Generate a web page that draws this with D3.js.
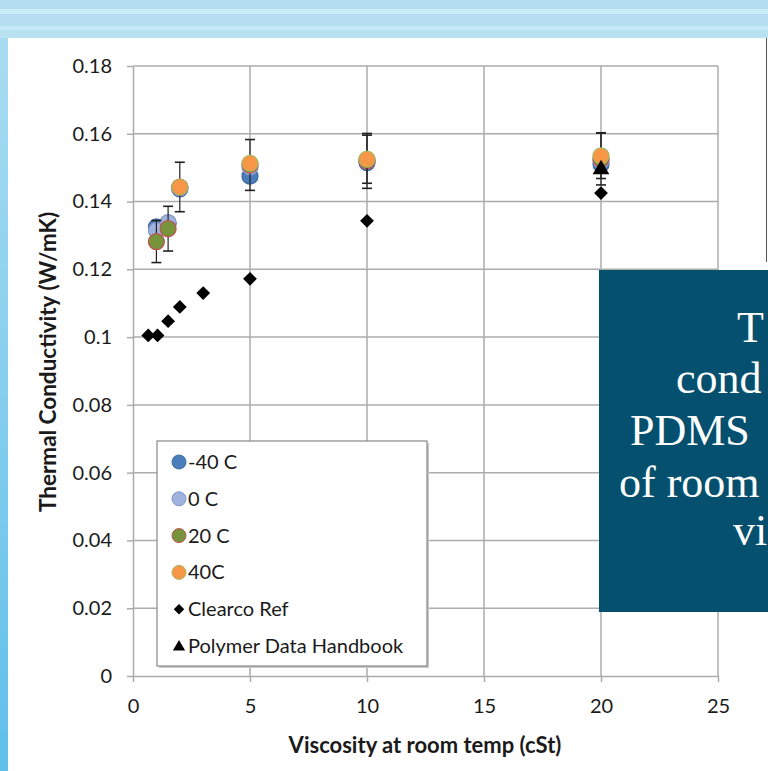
<!DOCTYPE html>
<html>
<head>
<meta charset="utf-8">
<script src="https://cdn.jsdelivr.net/npm/d3@7"></script>
<style>
  body { margin: 0; overflow: hidden; background: #b9e2f1; }
  svg { display: block; }
</style>
</head>
<body>
<div id="chart"></div>
<script>
// data
var viscosity = [1, 1.5, 2, 5, 10, 20];
var viscosity40 = [2, 5, 10, 20];
var kMinus40 = [0.1325, 0.1335, 0.1437, 0.1475, 0.1515, 0.151];
var kZero = [0.1315, 0.1338, 0.144, 0.1502, 0.152, 0.152];
var kTwenty = [0.1282, 0.132, 0.1443, 0.1508, 0.152, 0.1526];
var kForty = [0.1443, 0.1513, 0.1525, 0.1535];
var errTwenty = [0.0062, 0.0066, 0.0073, 0.0075, 0.0081, 0.0077];
var errForty = [0, 0, 0.0071, 0.0067];
var clearcoX = [0.65, 1.05, 1.5, 2, 3, 5, 10, 20];
var clearcoK = [0.1005, 0.1005, 0.1047, 0.1089, 0.113, 0.1172, 0.1343, 0.1425];
var handbookX = [20];
var handbookK = [0.1495];
var xTicks = [0, 5, 10, 15, 20, 25];
var yTicks = [0, 0.02, 0.04, 0.06, 0.08, 0.1, 0.12, 0.14, 0.16, 0.18];
var yTickLabels = ["0", "0.02", "0.04", "0.06", "0.08", "0.1", "0.12", "0.14", "0.16", "0.18"];
var legendNames = ["-40 C", "0 C", "20 C", "40C", "Clearco Ref", "Polymer Data Handbook"];
// only the part of the slide text box that is inside the frame
var boxLines = ["T", "cond", "PDMS", "of room", "vi"];

var W = 768, H = 771;
var sans = "Lato, 'Open Sans', sans-serif";
var svg = d3.select("#chart").append("svg")
    .attr("width", W)
    .attr("height", H);

var defs = svg.append("defs");
var sideGrad = defs.append("linearGradient")
    .attr("id", "side").attr("x1", 0).attr("y1", 0).attr("x2", 0).attr("y2", 1);
sideGrad.append("stop").attr("offset", "0%").attr("stop-color", "#a9dcf1");
sideGrad.append("stop").attr("offset", "100%").attr("stop-color", "#5fc0ea");

// slide background stripes
var stripes = [[0, 9, "#b4dcef"], [9, 5, "#c9eef8"], [14, 12, "#b6def0"], [26, 4, "#c4eaf6"], [30, 8, "#b9e2f1"]];
svg.selectAll("rect.stripe").data(stripes).enter().append("rect")
    .attr("class", "stripe")
    .attr("x", 0).attr("y", d => d[0])
    .attr("width", W).attr("height", d => d[1])
    .attr("fill", d => d[2]);
svg.append("rect").attr("x", 0).attr("y", 38).attr("width", 8).attr("height", H - 38).attr("fill", "url(#side)");

// white chart panel
svg.append("rect").attr("x", 8).attr("y", 38).attr("width", W - 8).attr("height", H - 38).attr("fill", "#fff");
svg.append("line").attr("x1", 766.5).attr("x2", 766.5).attr("y1", 38).attr("y2", 262)
    .attr("stroke", "#555").attr("stroke-width", 1);

var x = d3.scaleLinear().domain([0, 25]).range([133, 718]);
var y = d3.scaleLinear().domain([0, 0.18]).range([676, 66]);

var gridColor = "#acacac";
var grid = svg.append("g");
grid.selectAll("line.h").data(yTicks.slice(1)).enter().append("line")
    .attr("x1", x(0)).attr("x2", x(25))
    .attr("y1", d => y(d)).attr("y2", d => y(d))
    .attr("stroke", gridColor).attr("stroke-width", 1.5);
grid.selectAll("line.v").data(xTicks.slice(1)).enter().append("line")
    .attr("x1", d => x(d)).attr("x2", d => x(d))
    .attr("y1", y(0.18)).attr("y2", y(0))
    .attr("stroke", gridColor).attr("stroke-width", 1.5);

var yAxis = svg.append("g")
    .attr("transform", "translate(" + x(0) + ",0)")
    .call(d3.axisLeft(y).tickValues(yTicks).tickSize(6).tickSizeOuter(0).tickPadding(15)
        .tickFormat((d, i) => yTickLabels[i]));
var xAxis = svg.append("g")
    .attr("transform", "translate(0," + y(0) + ")")
    .call(d3.axisBottom(x).tickValues(xTicks).tickSize(6).tickSizeOuter(0).tickPadding(17));
[xAxis, yAxis].forEach(function (a) {
    a.select(".domain").attr("stroke", gridColor).attr("stroke-width", 1.5);
    a.selectAll(".tick line").attr("stroke", gridColor).attr("stroke-width", 1.5);
    a.selectAll("text").attr("font-family", sans)
        .attr("font-size", 20).attr("fill", "#1a1a1a");
});

svg.append("text")
    .attr("transform", "translate(56,362) rotate(-90)")
    .attr("text-anchor", "middle")
    .attr("font-family", sans)
    .attr("font-weight", "bold").attr("font-size", 22.5).attr("fill", "#1a1a1a")
    .text("Thermal Conductivity (W/mK)");
svg.append("text")
    .attr("x", 425).attr("y", 753)
    .attr("text-anchor", "middle")
    .attr("font-family", sans)
    .attr("font-weight", "bold").attr("font-size", 22).attr("fill", "#1a1a1a")
    .text("Viscosity at room temp (cSt)");

// series
var circleSeries = [
    {xs: viscosity, ys: kMinus40, err: null, fill: "#4a7ebb", stroke: "#3d6aa3"},
    {xs: viscosity, ys: kZero, err: null, fill: "#9fb3de", stroke: "#7f93c8"},
    {xs: viscosity, ys: kTwenty, err: errTwenty, fill: "#77933c", stroke: "#c0504d"},
    {xs: viscosity40, ys: kForty, err: errForty, fill: "#f79646", stroke: "#a8b860"}
];

var plot = svg.append("g");
circleSeries.forEach(function (s) {
    var pts = s.xs.map((v, i) => ({x: v, y: s.ys[i], e: s.err ? s.err[i] : 0}));
    var eb = plot.append("g");
    pts.filter(p => p.e > 0).forEach(function (p) {
        var cx = x(p.x);
        eb.append("line").attr("x1", cx).attr("x2", cx)
            .attr("y1", y(p.y - p.e)).attr("y2", y(p.y + p.e))
            .attr("stroke", "#222").attr("stroke-width", 1.2);
        [p.y - p.e, p.y + p.e].forEach(function (v) {
            eb.append("line").attr("x1", cx - 5).attr("x2", cx + 5)
                .attr("y1", y(v)).attr("y2", y(v))
                .attr("stroke", "#222").attr("stroke-width", 1.6);
        });
    });
    plot.append("g").selectAll("circle").data(pts).enter().append("circle")
        .attr("cx", d => x(d.x)).attr("cy", d => y(d.y)).attr("r", 8)
        .attr("fill", s.fill).attr("stroke", s.stroke).attr("stroke-width", 1.2);
});

plot.append("g").selectAll("path").data(clearcoX.map((v, i) => [v, clearcoK[i]])).enter()
    .append("path")
    .attr("transform", d => "translate(" + x(d[0]) + "," + y(d[1]) + ") rotate(45)")
    .attr("d", d3.symbol().type(d3.symbolSquare).size(95))
    .attr("fill", "#000");
plot.append("g").selectAll("path").data(handbookX.map((v, i) => [v, handbookK[i]])).enter()
    .append("path")
    .attr("transform", d => "translate(" + x(d[0]) + "," + y(d[1]) + ")")
    .attr("d", d3.symbol().type(d3.symbolTriangle).size(120))
    .attr("fill", "#000");

// legend
var lg = svg.append("g").attr("transform", "translate(157,441)");
lg.append("rect").attr("x", 2).attr("y", 2).attr("width", 270).attr("height", 225).attr("fill", "#c8c8c8");
lg.append("rect").attr("width", 270).attr("height", 225).attr("fill", "#fff")
    .attr("stroke", "#888").attr("stroke-width", 1.2);
var legendSwatch = circleSeries.map(s => ({kind: "circle", fill: s.fill, stroke: s.stroke}))
    .concat([{kind: "diamond"}, {kind: "triangle"}]);
legendNames.forEach(function (name, i) {
    var ly = 21 + i * 36.8;
    var sw = legendSwatch[i];
    if (sw.kind === "circle") {
        lg.append("circle").attr("cx", 22).attr("cy", ly).attr("r", 7)
            .attr("fill", sw.fill).attr("stroke", sw.stroke).attr("stroke-width", 1);
    } else if (sw.kind === "diamond") {
        lg.append("path").attr("transform", "translate(22," + ly + ") rotate(45)")
            .attr("d", d3.symbol().type(d3.symbolSquare).size(55)).attr("fill", "#000");
    } else {
        lg.append("path").attr("transform", "translate(22," + (ly + 1) + ")")
            .attr("d", d3.symbol().type(d3.symbolTriangle).size(65)).attr("fill", "#000");
    }
    lg.append("text").attr("x", 31).attr("y", ly + 7)
        .attr("font-family", sans)
        .attr("font-size", 20).attr("fill", "#1a1a1a")
        .text(name);
});

// overlay text box (cut off at the right edge of the slide)
svg.append("rect").attr("x", 599).attr("y", 270).attr("width", 200).attr("height", 342)
    .attr("fill", "#05506e");
var boxX = [737, 676, 630, 619, 733];
var boxY = [342, 393, 445, 497, 545];
boxLines.forEach(function (t, i) {
    svg.append("text").attr("x", boxX[i]).attr("y", boxY[i])
        .attr("font-family", "'Liberation Serif', 'DejaVu Serif', serif")
        .attr("font-size", 44).attr("fill", "#fff")
        .text(t);
});
</script>
</body>
</html>
